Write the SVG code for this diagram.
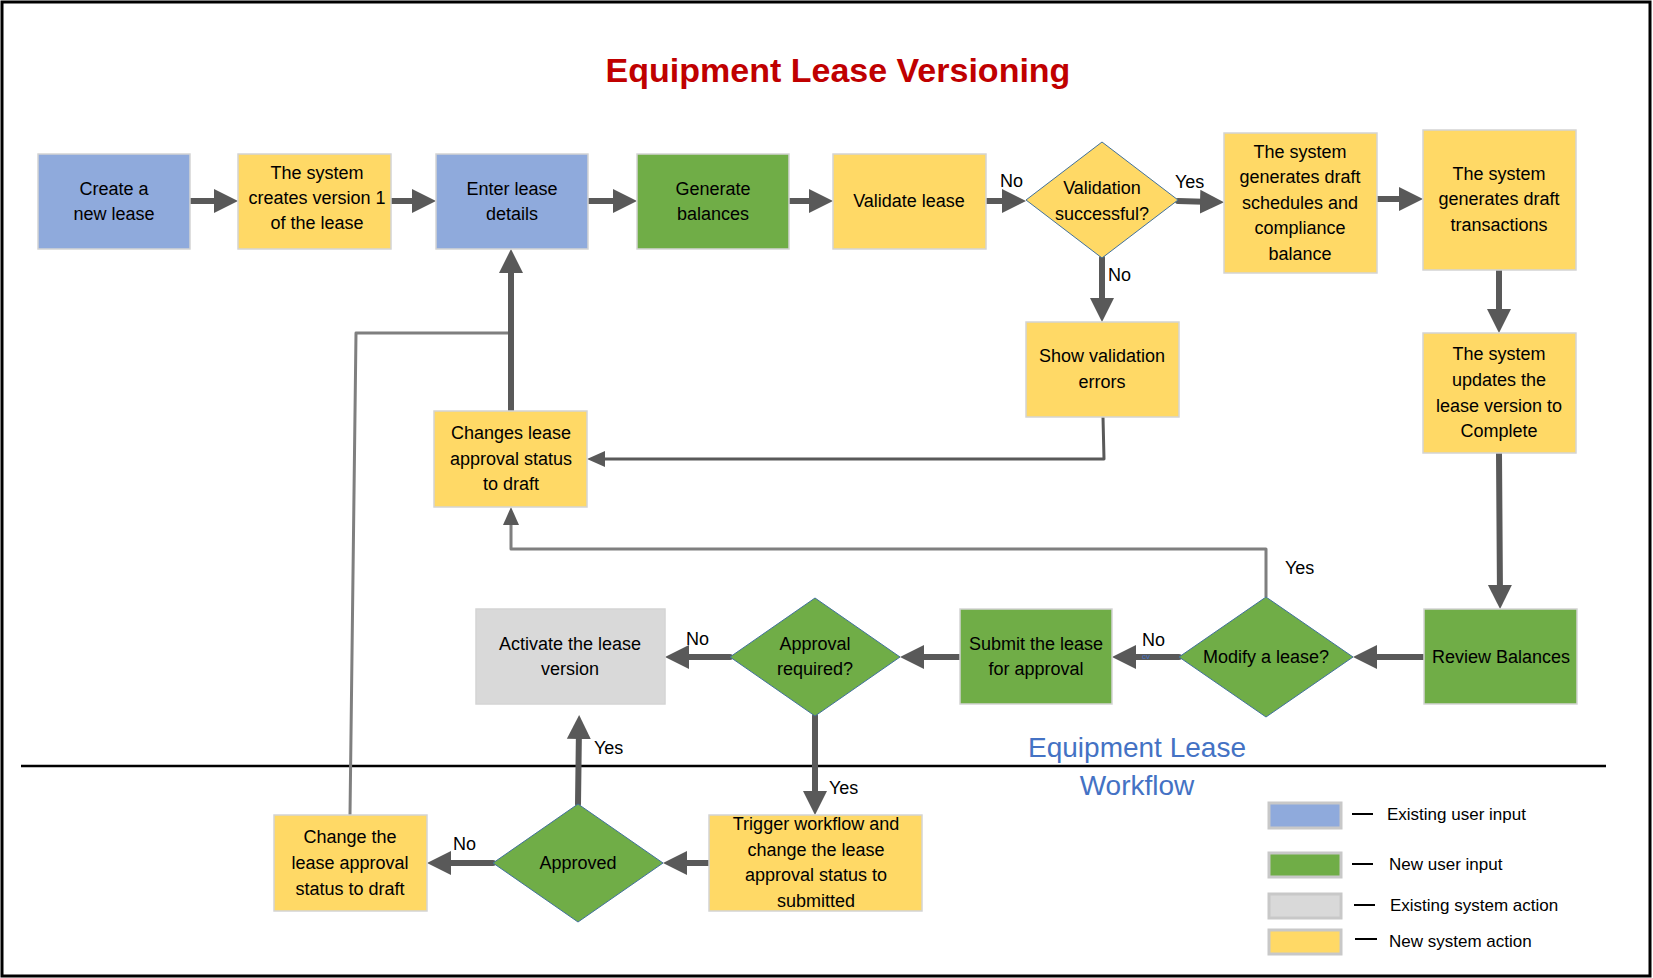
<svg xmlns="http://www.w3.org/2000/svg" width="1653" height="978" viewBox="0 0 1653 978">
<style>
.t{font-family:"Liberation Sans",Arial,sans-serif;font-size:18px;fill:#000;text-anchor:middle}
.lb{font-family:"Liberation Sans",Arial,sans-serif;font-size:18px;fill:#000}
.lg{font-family:"Liberation Sans",Arial,sans-serif;font-size:17px;fill:#000}
.blue{fill:#8FAADC;stroke:#D4D4D4;stroke-width:1.5}
.yel{fill:#FFD966;stroke:#D4D4D4;stroke-width:1.5}
.grn{fill:#70AD47;stroke:#D4D4D4;stroke-width:1.5}
.gry{fill:#D9D9D9;stroke:#D4D4D4;stroke-width:1.5}
.dy{fill:#FFD966;stroke:#41719C;stroke-width:1}
.dg{fill:#70AD47;stroke:#41719C;stroke-width:1}
.c{fill:none;stroke:#595959;stroke-width:6;stroke-linecap:round;stroke-linejoin:round}
.cn{fill:none;stroke:#595959;stroke-width:3;stroke-linejoin:round}
.cl{fill:none;stroke:#7F7F7F;stroke-width:3;stroke-linejoin:round}
.lgb{stroke:#C8C8C8;stroke-width:3}
</style>
<defs>
<marker id="ah" markerUnits="userSpaceOnUse" markerWidth="24" markerHeight="26" refX="12" refY="12" orient="auto" viewBox="0 0 24 24">
<path d="M0,0 L24,12 L0,24 z" fill="#595959"/>
</marker>
<marker id="ahs" markerUnits="userSpaceOnUse" markerWidth="18" markerHeight="18" refX="9" refY="8" orient="auto" viewBox="0 0 18 16">
<path d="M0,0 L18,8 L0,16 z" fill="#595959"/>
</marker>
</defs>
<rect x="2" y="2" width="1648" height="974" fill="#FFFFFF" stroke="#000" stroke-width="3"/>
<text x="838" y="82" style="font-family:'Liberation Sans',Arial,sans-serif;font-size:34px;font-weight:bold;fill:#C00000;text-anchor:middle">Equipment Lease Versioning</text>
<line x1="21" y1="766" x2="1606" y2="766" stroke="#000" stroke-width="2.5"/>
<text x="1137" y="757" style="font-family:'Liberation Sans',Arial,sans-serif;font-size:28px;fill:#4472C4;text-anchor:middle">Equipment Lease</text>
<text x="1137" y="795" style="font-family:'Liberation Sans',Arial,sans-serif;font-size:28px;fill:#4472C4;text-anchor:middle">Workflow</text>

<g id="connectors">
<path class="c" d="M190,201 L226,201" marker-end="url(#ah)"/>
<path class="c" d="M391,201 L424,201" marker-end="url(#ah)"/>
<path class="c" d="M588,201 L625,201" marker-end="url(#ah)"/>
<path class="c" d="M789,201 L821,201" marker-end="url(#ah)"/>
<path class="c" d="M986,201 L1014,201" marker-end="url(#ah)"/>
<path class="c" d="M1178,201 L1212,202" marker-end="url(#ah)"/>
<path class="c" d="M1377,199 L1411,199" marker-end="url(#ah)"/>
<path class="c" d="M1499,270 L1499,321" marker-end="url(#ah)"/>
<path class="c" d="M1102,258 L1102,310" marker-end="url(#ah)"/>
<path class="cn" d="M1103,417 L1104,459 L596,459" marker-end="url(#ahs)"/>
<path class="cl" d="M350,815 L356,333 L511,333"/>
<path class="c" d="M511,411 L511,261" marker-end="url(#ah)"/>
<path class="c" d="M1499,453 L1500,597" marker-end="url(#ah)"/>
<path class="c" d="M1424,657 L1365,657" marker-end="url(#ah)"/>
<path class="c" d="M1179,657 L1124,657" marker-end="url(#ah)"/>
<path class="cl" d="M1266,597 L1266,549 L511,549 L511,516" marker-end="url(#ahs)"/>
<path class="c" d="M960,657 L912,657" marker-end="url(#ah)"/>
<path class="c" d="M730,657 L677,657" marker-end="url(#ah)"/>
<path class="c" d="M815,716 L815,803" marker-end="url(#ah)"/>
<path class="c" d="M709,863 L675,863" marker-end="url(#ah)"/>
<path class="c" d="M578,804 L579,727" marker-end="url(#ah)"/>
<path class="c" d="M493,863 L439,863" marker-end="url(#ah)"/>
<text class="lb" x="1000" y="187">No</text>
<text class="lb" x="1175" y="188">Yes</text>
<text class="lb" x="1108" y="281">No</text>
<text class="lb" x="1142" y="646">No</text>
<text x="1142" y="659" style="font-family:'Liberation Sans',Arial,sans-serif;font-size:8px;fill:#4472C4">cv</text>
<text class="lb" x="1285" y="574">Yes</text>
<text class="lb" x="686" y="645">No</text>
<text class="lb" x="829" y="794">Yes</text>
<text class="lb" x="594" y="754">Yes</text>
<text class="lb" x="453" y="850">No</text>
</g>

<g id="n1"><rect class="blue" x="38" y="154" width="152" height="95"/><text class="t" x="114" y="195">Create a</text><text class="t" x="114" y="220">new lease</text></g>
<g id="n2"><rect class="yel" x="238" y="154" width="153" height="95"/><text class="t" x="317" y="179">The system</text><text class="t" x="317" y="204">creates version 1</text><text class="t" x="317" y="229">of the lease</text></g>
<g id="n3"><rect class="blue" x="436" y="154" width="152" height="95"/><text class="t" x="512" y="195">Enter lease</text><text class="t" x="512" y="220">details</text></g>
<g id="n4"><rect class="grn" x="637" y="154" width="152" height="95"/><text class="t" x="713" y="195">Generate</text><text class="t" x="713" y="220">balances</text></g>
<g id="n5"><rect class="yel" x="833" y="154" width="153" height="95"/><text class="t" x="909" y="207">Validate lease</text></g>
<g id="n6"><polygon class="dy" points="1026,200 1102,142 1178,200 1102,258"/><text class="t" x="1102" y="194">Validation</text><text class="t" x="1102" y="220">successful?</text></g>
<g id="n7"><rect class="yel" x="1224" y="133" width="153" height="140"/><text class="t" x="1300" y="158">The system</text><text class="t" x="1300" y="183">generates draft</text><text class="t" x="1300" y="209">schedules and</text><text class="t" x="1300" y="234">compliance</text><text class="t" x="1300" y="260">balance</text></g>
<g id="n8"><rect class="yel" x="1423" y="130" width="153" height="140"/><text class="t" x="1499" y="180">The system</text><text class="t" x="1499" y="205">generates draft</text><text class="t" x="1499" y="231">transactions</text></g>
<g id="n9"><rect class="yel" x="1423" y="333" width="153" height="120"/><text class="t" x="1499" y="360">The system</text><text class="t" x="1499" y="386">updates the</text><text class="t" x="1499" y="412">lease version to</text><text class="t" x="1499" y="437">Complete</text></g>
<g id="n10"><rect class="yel" x="1026" y="322" width="153" height="95"/><text class="t" x="1102" y="362">Show validation</text><text class="t" x="1102" y="388">errors</text></g>
<g id="n11"><rect class="yel" x="434" y="411" width="153" height="96"/><text class="t" x="511" y="439">Changes lease</text><text class="t" x="511" y="465">approval status</text><text class="t" x="511" y="490">to draft</text></g>
<g id="n12"><rect class="grn" x="1424" y="609" width="153" height="95"/><text class="t" x="1501" y="663">Review Balances</text></g>
<g id="n13"><polygon class="dg" points="1179,657 1266,597 1353,657 1266,717"/><text class="t" x="1266" y="663">Modify a lease?</text></g>
<g id="n14"><rect class="grn" x="960" y="609" width="152" height="95"/><text class="t" x="1036" y="650">Submit the lease</text><text class="t" x="1036" y="675">for approval</text></g>
<g id="n15"><polygon class="dg" points="730,657 815,598 900,657 815,716"/><text class="t" x="815" y="650">Approval</text><text class="t" x="815" y="675">required?</text></g>
<g id="n16"><rect class="gry" x="476" y="609" width="189" height="95"/><text class="t" x="570" y="650">Activate the lease</text><text class="t" x="570" y="675">version</text></g>
<g id="n17"><rect class="yel" x="709" y="815" width="213" height="96"/><text class="t" x="816" y="830">Trigger workflow and</text><text class="t" x="816" y="856">change the lease</text><text class="t" x="816" y="881">approval status to</text><text class="t" x="816" y="907">submitted</text></g>
<g id="n18"><polygon class="dg" points="493,863 578,804 663,863 578,922"/><text class="t" x="578" y="869">Approved</text></g>
<g id="n19"><rect class="yel" x="274" y="815" width="153" height="96"/><text class="t" x="350" y="843">Change the</text><text class="t" x="350" y="869">lease approval</text><text class="t" x="350" y="895">status to draft</text></g>

<g id="legend">
<rect class="lgb" x="1269" y="803" width="72" height="25" fill="#8FAADC"/>
<rect class="lgb" x="1269" y="853" width="72" height="24" fill="#70AD47"/>
<rect class="lgb" x="1269" y="894" width="72" height="24" fill="#D9D9D9"/>
<rect class="lgb" x="1269" y="930" width="72" height="24" fill="#FFD966"/>
<line x1="1352" y1="814" x2="1373" y2="814" stroke="#000" stroke-width="2"/>
<line x1="1352" y1="864" x2="1373" y2="864" stroke="#000" stroke-width="2"/>
<line x1="1354" y1="905" x2="1375" y2="905" stroke="#000" stroke-width="2"/>
<line x1="1355" y1="939" x2="1377" y2="939" stroke="#000" stroke-width="2"/>
<text class="lg" x="1387" y="820">Existing user input</text>
<text class="lg" x="1389" y="870">New user input</text>
<text class="lg" x="1390" y="911">Existing system action</text>
<text class="lg" x="1389" y="947">New system action</text>
</g>
</svg>
